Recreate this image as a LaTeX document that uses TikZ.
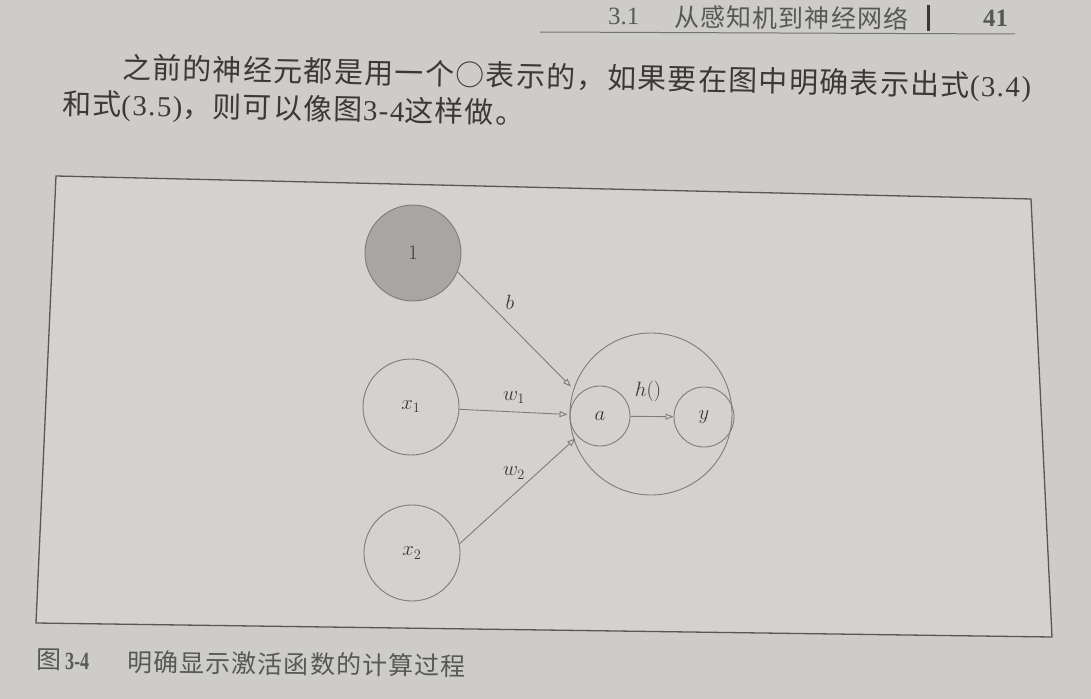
\documentclass[tikz,border=0pt]{standalone}
\usepackage{fontspec}
\setmainfont{Liberation Serif}
\newfontfamily\cjk{Noto Sans CJK SC}
\newfontfamily\cjkwide[LetterSpace=5]{Noto Sans CJK SC}
\newfontfamily\serifwide[LetterSpace=5]{Liberation Serif}
\usetikzlibrary{arrows.meta}
\definecolor{paper}{RGB}{206,204,200}
\definecolor{boxin}{RGB}{211,210,206}
\definecolor{ink}{RGB}{58,57,56}
\definecolor{edge}{RGB}{125,124,122}
\definecolor{biasfill}{RGB}{168,166,163}
\begin{document}
\begin{tikzpicture}[x=1bp,y=-1bp,
  neuron/.style={circle,draw=edge,line width=0.9bp,minimum size=96bp,inner sep=0pt,
    font=\fontsize{21}{25}\selectfont,text=ink},
  smallneuron/.style={neuron,minimum size=60bp},
  conn/.style={draw=edge,line width=0.9bp,-{Triangle[open,length=8bp,width=6bp]}},
  lbl/.style={font=\fontsize{21}{25}\selectfont,text=ink},
  para/.style={font=\fontsize{29}{34}\selectfont,text=ink,anchor=west,inner sep=0pt},
  head/.style={font=\fontsize{25}{30}\selectfont,text=ink!85,anchor=west,inner sep=0pt}]
\fill[paper] (0,0) rectangle (1091,699);
\useasboundingbox (0,0) rectangle (1091,699);
% header
\node[head,rotate=-0.4] (hnum) at (608,16) {3.1};
\node[head,rotate=-0.4] (htitle) at (674,17) {\cjkwide 从感知机到神经网络};
\draw[ink,line width=3bp] (928,5) -- (928,31);
\node[head,font=\fontsize{25}{30}\selectfont\bfseries] (hpage) at (983,18) {41};
\draw[ink!70,line width=1bp] (540,32) -- (1015,34);
% paragraph
\node[para,rotate=-1.2] (line1) at (122,69) {\cjkwide 之前的神经元都是用一个○表示的，如果要在图中明确表示出式{\serifwide(3.4)}};
\node[para,rotate=-1.2] (line2) at (62,105) {\cjkwide 和式{\serifwide(3.5)}，则可以像图{\serifwide3-4}这样做。};
% frame
\filldraw[fill=boxin,draw=ink!85,line width=1.3bp] (56,176) -- (1031,199) -- (1052,637) -- (36,623) -- cycle;
% caption
\node[head,rotate=-0.7] (cap1) at (36,660) {\cjk 图\,\scalebox{0.72}[1]{\rmfamily\bfseries 3-4}};
\node[head,rotate=-0.7] (cap2) at (127,662) {\cjkwide 明确显示激活函数的计算过程};
% diagram
\node[neuron,fill=biasfill] (one) at (413,253) {$1$};
\node[neuron] (x1) at (411,407) {$x_1$};
\node[neuron] (x2) at (412,553) {$x_2$};
\node[circle,draw=edge,line width=0.9bp,minimum size=162bp,inner sep=0pt] (big) at (651,414) {};
\node[smallneuron] (a) at (600,416) {$a$};
\node[smallneuron] (y) at (704,417) {$y$};
\draw[conn,shorten >=11bp] (one.-23) -- (a);
\draw[conn,shorten >=2bp] (x1) -- (a);
\draw[conn,shorten >=3bp] (x2.11) -- (a);
\draw[conn] (a) -- (y);
\node[lbl] (lb) at (510,302) {$b$};
\node[lbl] (lw1) at (514,398) {$w_1$};
\node[lbl] (lw2) at (514,473) {$w_2$};
\node[lbl] (lh) at (648,391) {$h()$};
\end{tikzpicture}
\end{document}
